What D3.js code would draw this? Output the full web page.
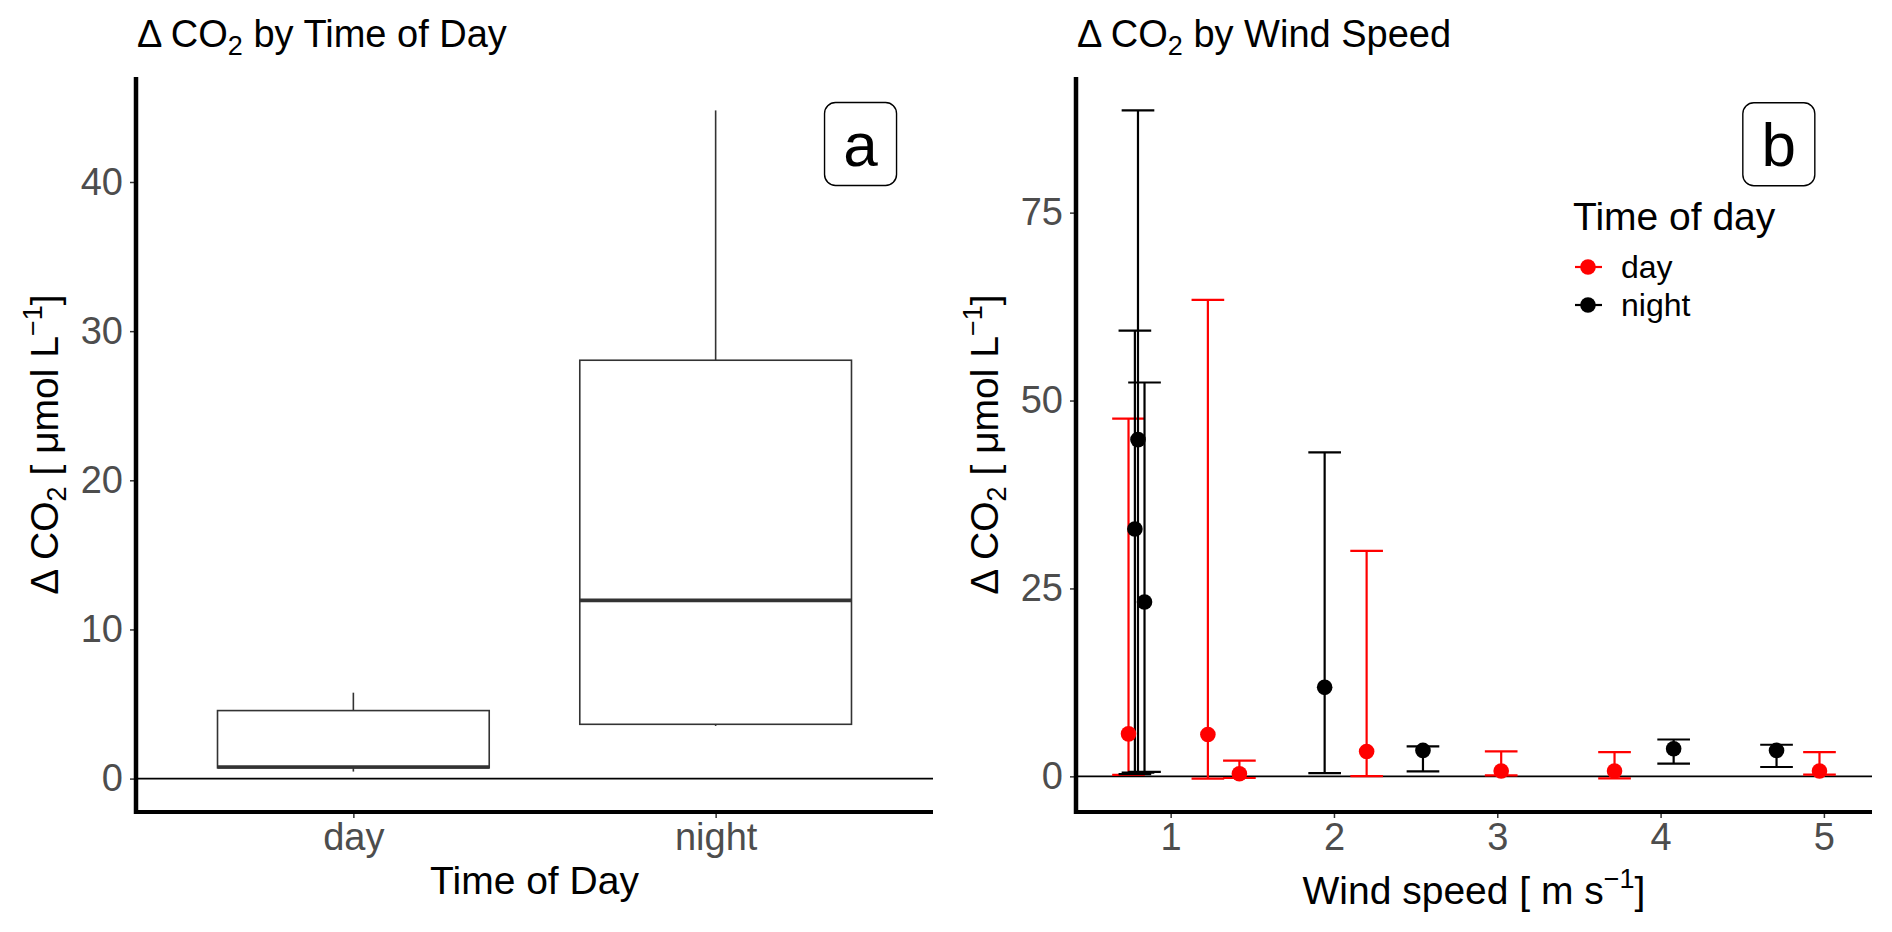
<!DOCTYPE html>
<html>
<head>
<meta charset="utf-8">
<script src="https://cdn.jsdelivr.net/npm/d3@7"></script>
<style>
  html, body { margin: 0; padding: 0; background: #ffffff; }
  svg { display: block; font-family: "Liberation Sans", Arial, sans-serif; }
</style>
</head>
<body>
<svg id="chart" width="1892" height="932"></svg>
<script>
// ---------------- DATA ----------------
// Panel a: boxplot of delta CO2 by time of day
const boxCategories = ["day", "night"];
const boxMin    = [0.47, 3.53];
const boxQ1     = [0.72, 3.64];
const boxMedian = [0.78, 11.95];
const boxQ3     = [4.56, 28.05];
const boxMax    = [5.76, 44.8];
const boxYTicks = [0, 10, 20, 30, 40];

// Panel b: mean delta CO2 with error bars by wind speed
const timeGroups = ["day", "night"];
const dayWind  = [0.742, 1.228, 1.421, 2.200, 3.024, 3.718, 4.973];
const dayMean  = [5.65, 5.57, 0.35, 3.31, 0.71, 0.71, 0.71];
const dayLow   = [0.2, -0.3, -0.22, 0.04, 0.13, -0.27, 0.22];
const dayHigh  = [47.6, 63.4, 2.08, 30.0, 3.31, 3.22, 3.22];
const nightWind = [0.80, 0.781, 0.84, 1.943, 2.545, 4.08, 4.71];
const nightMean = [44.8, 32.9, 23.2, 11.84, 3.45, 3.67, 3.45];
const nightLow  = [0.5, 0.3, 0.6, 0.44, 0.66, 1.68, 1.24];
const nightHigh = [88.6, 59.3, 52.4, 43.1, 3.98, 4.9, 4.2];
const windXTicks = [1, 2, 3, 4, 5];
const windYTicks = [0, 25, 50, 75];
const groupColors = ["#ff0000", "#000000"];

// ---------------- LAYOUT ----------------
const svg = d3.select("#chart");
const panelA = { x0: 136, x1: 933, y0: 77, y1: 812 };
const panelB = { x0: 1076, x1: 1872, y0: 77, y1: 812 };
const tickColor = "#333333";
const tickTextColor = "#4d4d4d";
const tickFont = 38, axisTitleFont = 39, titleFont = 38;

function expand(lo, hi, f = 0.05) { const r = hi - lo; return [lo - r * f, hi + r * f]; }

// ---------------- PANEL A ----------------
const yA = d3.scaleLinear()
  .domain(expand(Math.min(0, d3.min(boxMin)), d3.max(boxMax)))
  .range([panelA.y1, panelA.y0]);
const xA = d3.scalePoint().domain(boxCategories).range([panelA.x0, panelA.x1]).padding(0.6);
const xAcont = d3.scaleLinear().domain([0.4, boxCategories.length + 0.6]).range([panelA.x0, panelA.x1]);
const boxW = xA.step() * 0.75;

const gA = svg.append("g");

// zero reference line
gA.append("line")
  .attr("x1", panelA.x0).attr("x2", panelA.x1)
  .attr("y1", yA(0)).attr("y2", yA(0))
  .attr("stroke", "#000").attr("stroke-width", 1.6);

const boxes = boxCategories.map((c, i) => ({
  c, min: boxMin[i], q1: boxQ1[i], med: boxMedian[i], q3: boxQ3[i], max: boxMax[i]
}));
const bg = gA.selectAll("g.box").data(boxes).join("g").attr("class", "box");
bg.append("line") // upper whisker
  .attr("x1", d => xA(d.c)).attr("x2", d => xA(d.c))
  .attr("y1", d => yA(d.q3)).attr("y2", d => yA(d.max))
  .attr("stroke", tickColor).attr("stroke-width", 1.6);
bg.append("line") // lower whisker
  .attr("x1", d => xA(d.c)).attr("x2", d => xA(d.c))
  .attr("y1", d => yA(d.q1)).attr("y2", d => yA(d.min))
  .attr("stroke", tickColor).attr("stroke-width", 1.6);
bg.append("rect")
  .attr("x", d => xA(d.c) - boxW / 2).attr("width", boxW)
  .attr("y", d => yA(d.q3)).attr("height", d => yA(d.q1) - yA(d.q3))
  .attr("fill", "#fff").attr("stroke", tickColor).attr("stroke-width", 1.6);
bg.append("line") // median
  .attr("x1", d => xA(d.c) - boxW / 2).attr("x2", d => xA(d.c) + boxW / 2)
  .attr("y1", d => yA(d.med)).attr("y2", d => yA(d.med))
  .attr("stroke", tickColor).attr("stroke-width", 3.6);

// axes A
const axAy = gA.append("g").attr("transform", `translate(${panelA.x0},0)`)
  .call(d3.axisLeft(yA).tickValues(boxYTicks).tickSize(6).tickPadding(7));
const axAx = gA.append("g").attr("transform", `translate(0,${panelA.y1})`)
  .call(d3.axisBottom(xA).tickSize(6).tickPadding(5));

// ---------------- PANEL B ----------------
const capHalf = 0.1;
const allWind = dayWind.concat(nightWind);
const allLow = dayLow.concat(nightLow, [0]);
const allHigh = dayHigh.concat(nightHigh);
const xB = d3.scaleLinear()
  .domain(expand(d3.min(allWind) - capHalf, d3.max(allWind) + capHalf))
  .range([panelB.x0, panelB.x1]);
const yB = d3.scaleLinear()
  .domain(expand(d3.min(allLow), d3.max(allHigh)))
  .range([panelB.y1, panelB.y0]);

const gB = svg.append("g");
gB.append("line")
  .attr("x1", panelB.x0).attr("x2", panelB.x1)
  .attr("y1", yB(0)).attr("y2", yB(0))
  .attr("stroke", "#000").attr("stroke-width", 1.6);

const groups = [
  { g: "day", wind: dayWind, mean: dayMean, low: dayLow, high: dayHigh },
  { g: "night", wind: nightWind, mean: nightMean, low: nightLow, high: nightHigh }
];
const color = d3.scaleOrdinal().domain(timeGroups).range(groupColors);
const rows = [];
groups.forEach(s => s.wind.forEach((w, i) =>
  rows.push({ g: s.g, x: w, m: s.mean[i], lo: s.low[i], hi: s.high[i] })));

const eb = gB.selectAll("g.eb").data(rows).join("g").attr("class", "eb")
  .attr("stroke", d => color(d.g)).attr("stroke-width", 2.2);
eb.append("line")
  .attr("x1", d => xB(d.x)).attr("x2", d => xB(d.x))
  .attr("y1", d => yB(d.lo)).attr("y2", d => yB(d.hi));
eb.append("line")
  .attr("x1", d => xB(d.x - capHalf)).attr("x2", d => xB(d.x + capHalf))
  .attr("y1", d => yB(d.hi)).attr("y2", d => yB(d.hi));
eb.append("line")
  .attr("x1", d => xB(d.x - capHalf)).attr("x2", d => xB(d.x + capHalf))
  .attr("y1", d => yB(d.lo)).attr("y2", d => yB(d.lo));

gB.selectAll("circle.pt").data(rows).join("circle").attr("class", "pt")
  .attr("cx", d => xB(d.x)).attr("cy", d => yB(d.m)).attr("r", 7.8)
  .attr("fill", d => color(d.g));

const axBy = gB.append("g").attr("transform", `translate(${panelB.x0},0)`)
  .call(d3.axisLeft(yB).tickValues(windYTicks).tickSize(6).tickPadding(7));
const axBx = gB.append("g").attr("transform", `translate(0,${panelB.y1})`)
  .call(d3.axisBottom(xB).tickValues(windXTicks).tickFormat(d3.format("d")).tickSize(6).tickPadding(5));

// style axes
[axAy, axAx, axBy, axBx].forEach(a => {
  a.select(".domain").remove();
  a.selectAll(".tick line").attr("stroke", tickColor).attr("stroke-width", 1.5);
  a.selectAll(".tick text").attr("fill", tickTextColor)
    .style("font-size", tickFont + "px").style("font-family", "'Liberation Sans', Arial, sans-serif");
});

// thick axis lines
[panelA, panelB].forEach(p => {
  svg.append("line").attr("x1", p.x0).attr("x2", p.x0).attr("y1", p.y0).attr("y2", p.y1 + 2)
    .attr("stroke", "#000").attr("stroke-width", 4.5);
  svg.append("line").attr("x1", p.x0 - 2).attr("x2", p.x1).attr("y1", p.y1).attr("y2", p.y1)
    .attr("stroke", "#000").attr("stroke-width", 4.2);
});

// ---------------- TEXT ----------------
function titleText(x, y, rest) {
  const t = svg.append("text").attr("x", x).attr("y", y)
    .style("font-size", titleFont + "px").attr("fill", "#000");
  t.append("tspan").text("Δ CO");
  t.append("tspan").text("2").style("font-size", "27px").attr("dy", 8);
  t.append("tspan").text(rest).attr("dy", -8);
}
titleText(panelA.x0 + 1, 47, " by Time of Day");
titleText(panelB.x0 + 1, 47, " by Wind Speed");

function yTitle(p) {
  const cy = (p.y0 + p.y1) / 2, cx = p.x0 - 78;
  const t = svg.append("text")
    .attr("transform", `translate(${cx},${cy}) rotate(-90)`)
    .attr("text-anchor", "middle")
    .style("font-size", axisTitleFont + "px").attr("fill", "#000");
  t.append("tspan").text("Δ CO");
  t.append("tspan").text("2").style("font-size", "27px").attr("dy", 8);
  t.append("tspan").text(" [ μmol L").attr("dy", -8);
  t.append("tspan").text("−1").style("font-size", "27px").attr("dy", -16);
  t.append("tspan").text("]").attr("dy", 16);
}
yTitle(panelA);
yTitle(panelB);

svg.append("text").attr("x", (panelA.x0 + panelA.x1) / 2).attr("y", 894)
  .attr("text-anchor", "middle").style("font-size", axisTitleFont + "px").text("Time of Day");
const xbT = svg.append("text").attr("x", (panelB.x0 + panelB.x1) / 2).attr("y", 904)
  .attr("text-anchor", "middle").style("font-size", axisTitleFont + "px");
xbT.append("tspan").text("Wind speed [ m s");
xbT.append("tspan").text("−1").style("font-size", "27px").attr("dy", -16);
xbT.append("tspan").text("]").attr("dy", 16);

// panel labels
function panelLabel(x, y, txt) {
  const w = 72, h = 83;
  svg.append("rect").attr("x", x - w / 2).attr("y", y - h / 2).attr("width", w).attr("height", h)
    .attr("rx", 11).attr("ry", 11).attr("fill", "#fff").attr("stroke", "#000").attr("stroke-width", 1.4);
  svg.append("text").attr("x", x).attr("y", y + 22).attr("text-anchor", "middle")
    .style("font-size", "62px").attr("fill", "#000").text(txt);
}
panelLabel(xAcont(2.40), yA(42.55), "a");
panelLabel(xB(4.724), yB(84.1), "b");

// legend
const lg = svg.append("g").attr("transform", "translate(1573,0)");
lg.append("text").attr("x", 0).attr("y", 230).style("font-size", axisTitleFont + "px").text("Time of day");
const keyY = [267, 305];
timeGroups.forEach((g, i) => {
  lg.append("line").attr("x1", 2).attr("x2", 29).attr("y1", keyY[i]).attr("y2", keyY[i])
    .attr("stroke", color(g)).attr("stroke-width", 2.2);
  lg.append("circle").attr("cx", 15).attr("cy", keyY[i]).attr("r", 7.8).attr("fill", color(g));
  lg.append("text").attr("x", 48).attr("y", keyY[i] + 11).style("font-size", "32px").text(g);
});
</script>
</body>
</html>
